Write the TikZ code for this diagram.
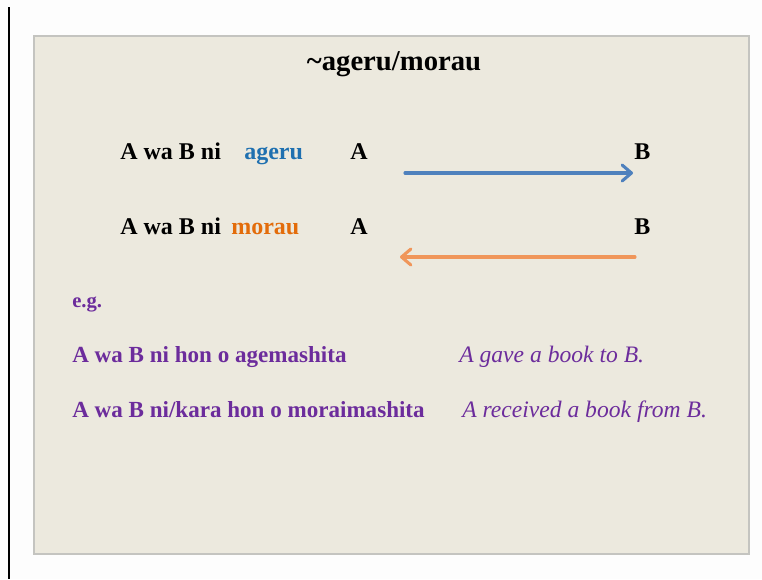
\documentclass[tikz,border=0pt]{standalone}
\usepackage{fontspec}
\setmainfont{Liberation Serif}
\usetikzlibrary{arrows.meta}

\definecolor{pagebg}{RGB}{253,253,253}
\definecolor{slidebg}{RGB}{236,233,222}
\definecolor{slideedge}{RGB}{196,196,192}
\definecolor{ageruBlue}{RGB}{31,112,176}
\definecolor{arrowBlue}{RGB}{79,129,189}
\definecolor{morauOrange}{RGB}{227,108,10}
\definecolor{arrowOrange}{RGB}{240,150,90}
\definecolor{examplePurple}{RGB}{108,44,156}

\tikzset{
  rowtext/.style={anchor=base west, inner sep=0pt, font=\fontsize{18}{22}\selectfont\bfseries},
  exampletext/.style={anchor=base west, inner sep=0pt, text=examplePurple, font=\fontsize{17.3}{21}\selectfont\bfseries},
  glosstext/.style={anchor=base west, inner sep=0pt, text=examplePurple, font=\fontsize{17.7}{21}\selectfont\itshape},
  verbArrow/.style={line width=2.3pt, line cap=round, -{Straight Barb[length=7pt, width=12pt, line cap=round, line join=round]}}
}

\begin{document}
\begin{tikzpicture}[x=0.75pt,y=0.75pt,yscale=-1,xscale=1]
\path[fill=pagebg] (0,0) rectangle (762,579);

% margin line on the left
\draw[line width=1.1pt] (9,7) -- (9,579);

% slide area
\draw[draw=slideedge, fill=slidebg, line width=0.9pt] (34,36) rectangle (749,554);

% Title
\draw (394,70) node [anchor=base, inner sep=0pt, font=\fontsize{21.5}{25}\selectfont\bfseries] (title) {\textasciitilde ageru/morau};

% Text Node: ageru row
\draw (120,159) node [rowtext] (ageruSentence) {A wa B ni};
\draw (244,159) node [rowtext, text=ageruBlue] (ageruVerb) {ageru};
\draw (350,159) node [rowtext] (ageruA) {A};
\draw (634,159) node [rowtext] (ageruB) {B};

% Text Node: morau row
\draw (120,234) node [rowtext] (morauSentence) {A wa B ni};
\draw (231,234) node [rowtext, text=morauOrange] (morauVerb) {morau};
\draw (350,234) node [rowtext] (morauA) {A};
\draw (634,234) node [rowtext] (morauB) {B};

% Arrows between A and B
\coordinate (giveTail) at (405,173);
\coordinate (giveHead) at (633,173);
\draw [verbArrow, draw=arrowBlue] (giveTail) -- (giveHead);
\coordinate (receiveTail) at (635,257);
\coordinate (receiveHead) at (400,257);
\draw [verbArrow, draw=arrowOrange] (receiveTail) -- (receiveHead);

% Examples
\draw (72,307) node [anchor=base west, inner sep=0pt, text=examplePurple, font=\fontsize{15.5}{19}\selectfont\bfseries] (eg) {e.g.};
\draw (72,362) node [exampletext] (exAgeru) {A wa B ni hon o agemashita};
\draw (459,362) node [glosstext] (glossAgeru) {A gave a book to B.};
\draw (72,417) node [exampletext] (exMorau) {A wa B ni/kara hon o moraimashita};
\draw (462,417) node [glosstext] (glossMorau) {A received a book from B.};

\end{tikzpicture}
\end{document}
